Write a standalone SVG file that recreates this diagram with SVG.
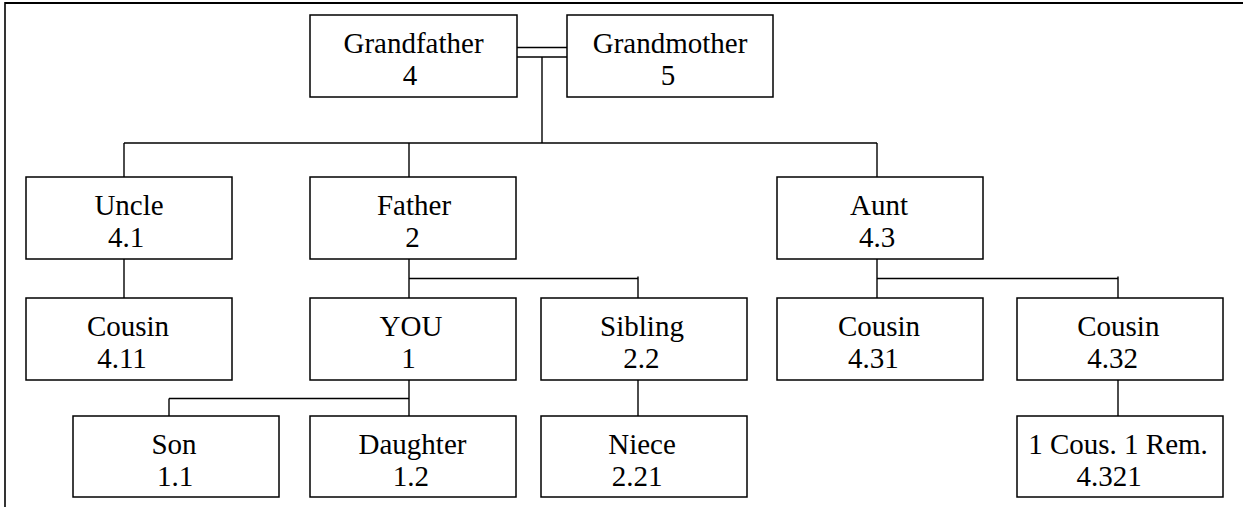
<svg xmlns="http://www.w3.org/2000/svg" width="1243" height="507" viewBox="0 0 1243 507">
<style>
.box{fill:#fff;stroke:#000;stroke-width:1.5}
.ln{stroke:#000;stroke-width:1.4;fill:none}
</style>
<rect width="1243" height="507" fill="#fff"/>
<g id="frame">
<line x1="5" y1="3" x2="1243" y2="3" stroke="#000" stroke-width="2.2"/>
<line x1="5" y1="2" x2="5" y2="507" stroke="#000" stroke-width="1.6"/>
</g>
<g id="connectors">
<line class="ln" x1="517" y1="47.5" x2="567" y2="47.5"/>
<line class="ln" x1="517" y1="57" x2="567" y2="57"/>
<line class="ln" x1="542" y1="57" x2="542" y2="143"/>
<line class="ln" x1="124" y1="143" x2="877" y2="143"/>
<line class="ln" x1="124" y1="143" x2="124" y2="177"/>
<line class="ln" x1="409" y1="143" x2="409" y2="177"/>
<line class="ln" x1="877" y1="143" x2="877" y2="177"/>
<line class="ln" x1="124" y1="259" x2="124" y2="298"/>
<line class="ln" x1="409" y1="259" x2="409" y2="298"/>
<line class="ln" x1="409" y1="278.5" x2="638" y2="278.5"/>
<line class="ln" x1="638" y1="276.5" x2="638" y2="298"/>
<line class="ln" x1="877" y1="259" x2="877" y2="298"/>
<line class="ln" x1="877" y1="278.5" x2="1118" y2="278.5"/>
<line class="ln" x1="1118" y1="276.5" x2="1118" y2="298"/>
<line class="ln" x1="409" y1="378" x2="409" y2="418"/>
<line class="ln" x1="169" y1="398.5" x2="409" y2="398.5"/>
<line class="ln" x1="169" y1="398.5" x2="169" y2="416"/>
<line class="ln" x1="638" y1="380" x2="638" y2="416"/>
<line class="ln" x1="1118" y1="380" x2="1118" y2="416"/>
</g>
<g id="grandfather"><rect class="box" x="310" y="15" width="207" height="82"/><text font-family="Liberation Serif" font-size="29" text-anchor="middle" x="413.5" y="53">Grandfather</text><text font-family="Liberation Serif" font-size="29" text-anchor="middle" x="410" y="85">4</text></g>
<g id="grandmother"><rect class="box" x="567" y="15" width="206" height="82"/><text font-family="Liberation Serif" font-size="29" text-anchor="middle" x="670" y="53">Grandmother</text><text font-family="Liberation Serif" font-size="29" text-anchor="middle" x="668" y="85">5</text></g>
<g id="uncle"><rect class="box" x="26" y="177" width="206" height="82"/><text font-family="Liberation Serif" font-size="29" text-anchor="middle" x="129" y="215">Uncle</text><text font-family="Liberation Serif" font-size="29" text-anchor="middle" x="126" y="247">4.1</text></g>
<g id="father"><rect class="box" x="310" y="177" width="206" height="82"/><text font-family="Liberation Serif" font-size="29" text-anchor="middle" x="414" y="215">Father</text><text font-family="Liberation Serif" font-size="29" text-anchor="middle" x="412.5" y="247">2</text></g>
<g id="aunt"><rect class="box" x="777" y="177" width="206" height="82"/><text font-family="Liberation Serif" font-size="29" text-anchor="middle" x="879" y="215">Aunt</text><text font-family="Liberation Serif" font-size="29" text-anchor="middle" x="877" y="247">4.3</text></g>
<g id="cousin411"><rect class="box" x="26" y="298" width="206" height="82"/><text font-family="Liberation Serif" font-size="29" text-anchor="middle" x="128" y="336">Cousin</text><text font-family="Liberation Serif" font-size="29" text-anchor="middle" x="122" y="368">4.11</text></g>
<g id="you"><rect class="box" x="310" y="298" width="206" height="82"/><text font-family="Liberation Serif" font-size="29" text-anchor="middle" x="411" y="336">YOU</text><text font-family="Liberation Serif" font-size="29" text-anchor="middle" x="408.5" y="368">1</text></g>
<g id="sibling"><rect class="box" x="541" y="298" width="206" height="82"/><text font-family="Liberation Serif" font-size="29" text-anchor="middle" x="642" y="336">Sibling</text><text font-family="Liberation Serif" font-size="29" text-anchor="middle" x="641.3" y="368">2.2</text></g>
<g id="cousin431"><rect class="box" x="777" y="298" width="206" height="82"/><text font-family="Liberation Serif" font-size="29" text-anchor="middle" x="879" y="336">Cousin</text><text font-family="Liberation Serif" font-size="29" text-anchor="middle" x="873.3" y="368">4.31</text></g>
<g id="cousin432"><rect class="box" x="1017" y="298" width="206" height="82"/><text font-family="Liberation Serif" font-size="29" text-anchor="middle" x="1118.3" y="336">Cousin</text><text font-family="Liberation Serif" font-size="29" text-anchor="middle" x="1112.5" y="368">4.32</text></g>
<g id="son"><rect class="box" x="73" y="416" width="206" height="81"/><text font-family="Liberation Serif" font-size="29" text-anchor="middle" x="174" y="454">Son</text><text font-family="Liberation Serif" font-size="29" text-anchor="middle" x="175" y="486">1.1</text></g>
<g id="daughter"><rect class="box" x="310" y="416" width="206" height="81"/><text font-family="Liberation Serif" font-size="29" text-anchor="middle" x="412.5" y="454">Daughter</text><text font-family="Liberation Serif" font-size="29" text-anchor="middle" x="410.8" y="486">1.2</text></g>
<g id="niece"><rect class="box" x="541" y="416" width="206" height="81"/><text font-family="Liberation Serif" font-size="29" text-anchor="middle" x="642" y="454">Niece</text><text font-family="Liberation Serif" font-size="29" text-anchor="middle" x="637" y="486">2.21</text></g>
<g id="cousin4321"><rect class="box" x="1017" y="416" width="206" height="81"/><text font-family="Liberation Serif" font-size="29" text-anchor="middle" x="1118" y="454">1 Cous. 1 Rem.</text><text font-family="Liberation Serif" font-size="29" text-anchor="middle" x="1109" y="486">4.321</text></g>
</svg>
